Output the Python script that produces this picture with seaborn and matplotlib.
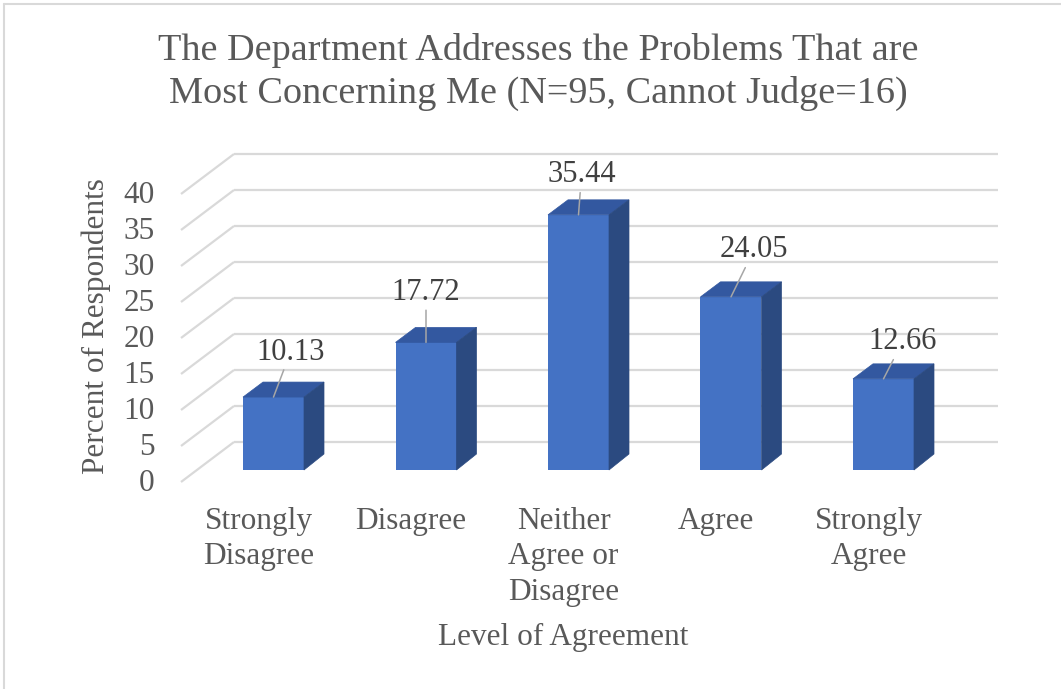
import numpy as np
import pandas as pd
import matplotlib
matplotlib.use("Agg")
import matplotlib.pyplot as plt
from matplotlib.patches import Polygon
from matplotlib.lines import Line2D
import seaborn as sns

# ---------------- data ----------------
categories = ["Strongly\nDisagree", "Disagree", "Neither\nAgree or\nDisagree",
              "Agree", "Strongly\nAgree"]
percents = [10.13, 17.72, 35.44, 24.05, 12.66]
y_ticks = [0, 5, 10, 15, 20, 25, 30, 35, 40]
title = ("The Department Addresses the Problems That are\n"
         "Most Concerning Me (N=95, Cannot Judge=16)")
x_label = "Level of Agreement"
y_label = "Percent of Respondents"

# ---------------- layout / style ----------------
W, H, DPI = 1061, 689, 100
FRONT = "#4472C4"
TOP = "#3358A0"
SIDE = "#2B4A80"
GRID = "#D9D9D9"
TEXT = "#595959"
LEADER = "#A6A6A6"
FONT = ["Liberation Serif", "DejaVu Serif"]

# pixel geometry of the plot box
PX_L, PX_R, PY_T, PY_B = 170, 1010, 140, 490
X0_PX, X_STEP = 273.5, 152.5      # first bar centre, spacing (px)
Y0_PX, Y_SCALE = 470.0, 7.2       # bar baseline, px per unit

def dx(px):
    return px / X_STEP

def dy(px):
    return px / Y_SCALE

label_offsets = [(17, 45), (0, 50), (3, 40), (23, 47), (19, 37)]  # pixels

sns.set_theme(style="white")
plt.rcParams["font.family"] = FONT

fig = plt.figure(figsize=(W / DPI, H / DPI), dpi=DPI)
fig.patch.set_facecolor("white")
ax = fig.add_axes([PX_L / W, (H - PY_B) / H, (PX_R - PX_L) / W, (PY_B - PY_T) / H])
ax.set_facecolor("none")

df = pd.DataFrame({"cat": categories, "pct": percents})
sns.barplot(data=df, x="cat", y="pct", order=categories, color=FRONT,
            saturation=1, width=0.4, ax=ax, zorder=3, linewidth=0)

ax.set_xlim((PX_L - X0_PX) / X_STEP, (PX_R - X0_PX) / X_STEP)
ax.set_ylim((Y0_PX - PY_B) / Y_SCALE, (Y0_PX - PY_T) / Y_SCALE)

# back wall & floor-side gridlines
back_off = dy(Y0_PX - 442)
front_off = -dy(482 - Y0_PX)
xb0, xb1 = dx(234 - X0_PX), dx(998 - X0_PX)
xf0 = dx(181 - X0_PX)
for v in y_ticks:
    ax.plot([xb0, xb1], [v + back_off, v + back_off], color=GRID, lw=1.6,
            zorder=1, solid_capstyle="butt")
    ax.plot([xf0, xb0], [v + front_off, v + back_off], color=GRID, lw=1.6,
            zorder=1, solid_capstyle="butt")

# 3D faces for each bar
ddx, ddy_top, ddy_bot = dx(20), dy(15), dy(16)
bars = list(ax.patches)
for p in bars:
    x0, w, h = p.get_x(), p.get_width(), p.get_height()
    top = Polygon([(x0, h), (x0 + ddx, h + ddy_top), (x0 + w + ddx, h + ddy_top),
                   (x0 + w, h)], closed=True, facecolor=TOP, edgecolor=TOP,
                  lw=0.5, zorder=3)
    side = Polygon([(x0 + w, 0), (x0 + w + ddx, ddy_bot), (x0 + w + ddx, h + ddy_top),
                    (x0 + w, h)], closed=True, facecolor=SIDE, edgecolor=SIDE,
                   lw=0.5, zorder=3)
    ax.add_patch(top)
    ax.add_patch(side)

# data labels with leader lines
for p, val, (ox, oy) in zip(bars, percents, label_offsets):
    cx = p.get_x() + p.get_width() / 2
    ax.annotate(f"{val:.2f}", xy=(cx, p.get_height()), xytext=(ox, oy),
                textcoords="offset pixels", ha="center", va="center",
                fontsize=22, color="#404040", zorder=5,
                arrowprops=dict(arrowstyle="-", color=LEADER, lw=1.1,
                                shrinkA=0, shrinkB=0))

# ticks
ax.set_yticks([v + front_off + dy(2) for v in y_ticks])
ax.set_yticklabels([str(v) for v in y_ticks])
ax.set_xticks([i - dx(15) for i in range(len(categories))])
ax.set_xticklabels(categories, linespacing=1.3)
ax.tick_params(axis="y", length=0, pad=11, labelsize=22.5, labelcolor=TEXT)
ax.tick_params(axis="x", length=0, pad=12, labelsize=22.5, labelcolor=TEXT)
for s in ax.spines.values():
    s.set_visible(False)
ax.grid(False)

ax.set_xlabel(x_label, fontsize=22.5, color=TEXT)
ax.xaxis.set_label_coords((563 - PX_L) / (PX_R - PX_L), (PY_B - 637) / (PY_B - PY_T))
ax.xaxis.label.set_va("center")
ax.set_ylabel(y_label, fontsize=22.5, color=TEXT)
ax.yaxis.set_label_coords((96 - PX_L) / (PX_R - PX_L), (PY_B - 326) / (PY_B - PY_T))
ax.yaxis.label.set_va("center")

fig.suptitle(title, x=538 / W, y=1 - 72 / H, va="center", ha="center",
             fontsize=27.5, color=TEXT, linespacing=1.3)

# chart border (left and top edges visible)
fig.add_artist(Line2D([4 / W, 4 / W], [0, 1 - 4 / H], transform=fig.transFigure,
                      color=GRID, lw=1.5))
fig.add_artist(Line2D([4 / W, 1], [1 - 4 / H, 1 - 4 / H], transform=fig.transFigure,
                      color=GRID, lw=1.5))

fig.savefig("out.png", dpi=DPI, facecolor="white")
